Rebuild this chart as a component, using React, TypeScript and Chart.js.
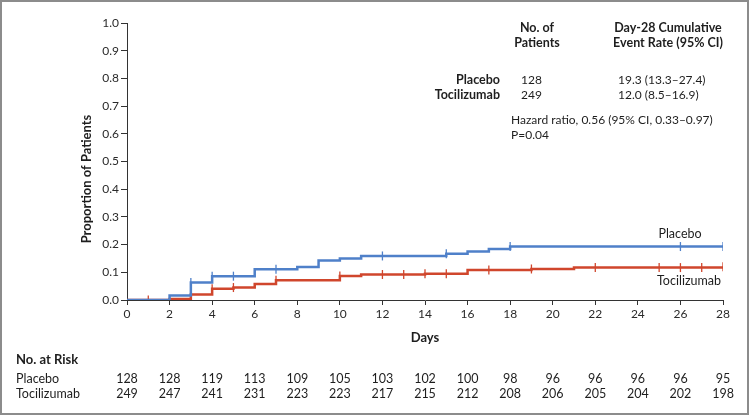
import React, { useEffect, useRef } from "react";
import { Chart, registerables } from "chart.js";

Chart.register(...registerables);

const dayTicks = [0, 2, 4, 6, 8, 10, 12, 14, 16, 18, 20, 22, 24, 26, 28];

const placeboDays = [0, 2, 3, 4, 6, 8, 9, 10, 11, 15, 16, 17, 18, 28];
const placeboRate = [0, 0.016, 0.063, 0.086, 0.111, 0.119, 0.143, 0.15, 0.159, 0.167, 0.175, 0.184, 0.193, 0.193];
const placeboCensor = [3, 4, 5, 7, 12, 15, 18, 26, 28];

const tociDays = [0, 2, 3, 4, 5, 6, 7, 10, 11, 14, 16, 19, 21, 28];
const tociRate = [0, 0.004, 0.02, 0.041, 0.045, 0.058, 0.071, 0.087, 0.092, 0.095, 0.108, 0.112, 0.117, 0.12];
const tociCensor = [1, 4, 5, 7, 10, 12, 13, 14, 15, 17, 19, 22, 25, 26, 27, 28];

const riskPlacebo = [128, 128, 119, 113, 109, 105, 103, 102, 100, 98, 96, 96, 96, 96, 95];
const riskToci = [249, 247, 241, 231, 223, 223, 217, 215, 212, 208, 206, 205, 204, 202, 198];

const BLUE = "#4f80c9";
const RED = "#d0462c";
const FONT = "Lato, 'Open Sans', sans-serif";

function stepAt(days: number[], rates: number[], t: number) {
  let v = 0;
  for (let i = 0; i < days.length; i++) if (days[i] <= t) v = rates[i];
  return v;
}

const textPlugin = {
  id: "textPlugin",
  afterDraw(chart: any) {
    const ctx = chart.ctx as CanvasRenderingContext2D;
    const xs = chart.scales.x;
    ctx.save();
    ctx.fillStyle = "#1e1e1e";
    ctx.textBaseline = "middle";

    // y-axis title
    ctx.save();
    ctx.translate(87, 179);
    ctx.rotate(-Math.PI / 2);
    ctx.textAlign = "center";
    ctx.font = `bold 13px ${FONT}`;
    ctx.fillText("Proportion of Patients", 0, 0);
    ctx.restore();

    // x-axis title
    ctx.textAlign = "center";
    ctx.font = `bold 13px ${FONT}`;
    ctx.fillText("Days", (chart.chartArea.left + chart.chartArea.right) / 2, 338);

    // header
    ctx.font = `bold 12.5px ${FONT}`;
    ctx.fillText("No. of", 537, 28);
    ctx.fillText("Patients", 537, 43);
    ctx.fillText("Day-28 Cumulative", 668, 28);
    ctx.fillText("Event Rate (95% CI)", 668, 43);

    ctx.textAlign = "right";
    ctx.fillText("Placebo", 500, 80);
    ctx.fillText("Tocilizumab", 500, 95);

    ctx.textAlign = "left";
    ctx.font = `12px ${FONT}`;
    ctx.fillText("128", 521, 80);
    ctx.fillText("249", 521, 95);
    ctx.fillText("19.3 (13.3\u201327.4)", 618, 80);
    ctx.fillText("12.0 (8.5\u201316.9)", 618, 95);
    ctx.fillText("Hazard ratio, 0.56 (95% CI, 0.33\u20130.97)", 511, 120, 208);
    ctx.fillText("P=0.04", 511, 135);

    // curve labels
    ctx.textAlign = "center";
    ctx.font = `12.5px ${FONT}`;
    ctx.fillText("Placebo", 680, 234);
    ctx.fillText("Tocilizumab", 689, 281);

    // risk table
    ctx.textAlign = "left";
    ctx.font = `bold 13px ${FONT}`;
    ctx.fillText("No. at Risk", 16, 360);
    ctx.font = `12.5px ${FONT}`;
    ctx.fillText("Placebo", 16, 379);
    ctx.fillText("Tocilizumab", 16, 394);
    ctx.textAlign = "center";
    dayTicks.forEach((d, i) => {
      const x = xs.getPixelForValue(d);
      ctx.fillText(String(riskPlacebo[i]), x, 379);
      ctx.fillText(String(riskToci[i]), x, 394);
    });
    ctx.restore();
  },
};

export default function App() {
  const ref = useRef<HTMLCanvasElement | null>(null);
  useEffect(() => {
    document.body.style.margin = "0";
    const canvas = ref.current!;
    const chart = new Chart(canvas, {
      type: "line",
      data: {
        datasets: [
          {
            label: "Placebo",
            data: placeboDays.map((d, i) => ({ x: d, y: placeboRate[i] })),
            borderColor: BLUE,
            borderWidth: 2.5,
            stepped: true,
            pointRadius: 0,
            fill: false,
          },
          {
            label: "Placebo censored",
            data: placeboCensor.map((d) => ({ x: d, y: stepAt(placeboDays, placeboRate, d) })),
            borderColor: BLUE,
            showLine: false,
            pointStyle: "line",
            rotation: 90,
            pointRadius: 4.5,
            pointBorderWidth: 1.3,
          } as any,
          {
            label: "Tocilizumab",
            data: tociDays.map((d, i) => ({ x: d, y: tociRate[i] })),
            borderColor: RED,
            borderWidth: 2.5,
            stepped: true,
            pointRadius: 0,
            fill: false,
          },
          {
            label: "Tocilizumab censored",
            data: tociCensor.map((d) => ({ x: d, y: stepAt(tociDays, tociRate, d) })),
            borderColor: RED,
            showLine: false,
            pointStyle: "line",
            rotation: 90,
            pointRadius: 4.5,
            pointBorderWidth: 1.3,
          } as any,
        ],
      },
      options: {
        animation: false,
        responsive: false,
        devicePixelRatio: 1,
        layout: { padding: { top: 23, right: 28, left: 0, bottom: 0 } },
        plugins: { legend: { display: false }, tooltip: { enabled: false } },
        scales: {
          x: {
            type: "linear",
            min: 0,
            max: 28,
            afterFit: (s: any) => {
              s.height = 116;
            },
            afterBuildTicks: (s: any) => {
              s.ticks = dayTicks.map((v) => ({ value: v }));
            },
            ticks: {
              color: "#2a2a2a",
              font: { family: FONT, size: 12 },
              padding: 2,
              maxRotation: 0,
              autoSkip: false,
            },
            grid: { drawOnChartArea: false, drawTicks: true, tickLength: 5, color: "#333" },
            border: { display: true, color: "#333", width: 1 },
          },
          y: {
            type: "linear",
            min: 0,
            max: 1,
            afterFit: (s: any) => {
              s.width = 127;
            },
            ticks: {
              stepSize: 0.1,
              color: "#2a2a2a",
              font: { family: FONT, size: 12 },
              padding: 2,
              callback: (v: any) => Number(v).toFixed(1),
            },
            grid: { drawOnChartArea: false, drawTicks: true, tickLength: 6, color: "#333" },
            border: { display: true, color: "#333", width: 1 },
          },
        },
      },
      plugins: [textPlugin],
    });
    return () => chart.destroy();
  }, []);
  return (
    <div style={{ position: "relative", width: 751, height: 416, background: "#fff" }}>
      <canvas ref={ref} width={751} height={416} style={{ display: "block", width: 751, height: 416 }} />
      <div
        style={{
          position: "absolute",
          left: 0,
          top: 0,
          width: 749,
          height: 415,
          boxSizing: "border-box",
          border: "2px solid #8c8c8c",
          pointerEvents: "none",
        }}
      />
    </div>
  );
}
